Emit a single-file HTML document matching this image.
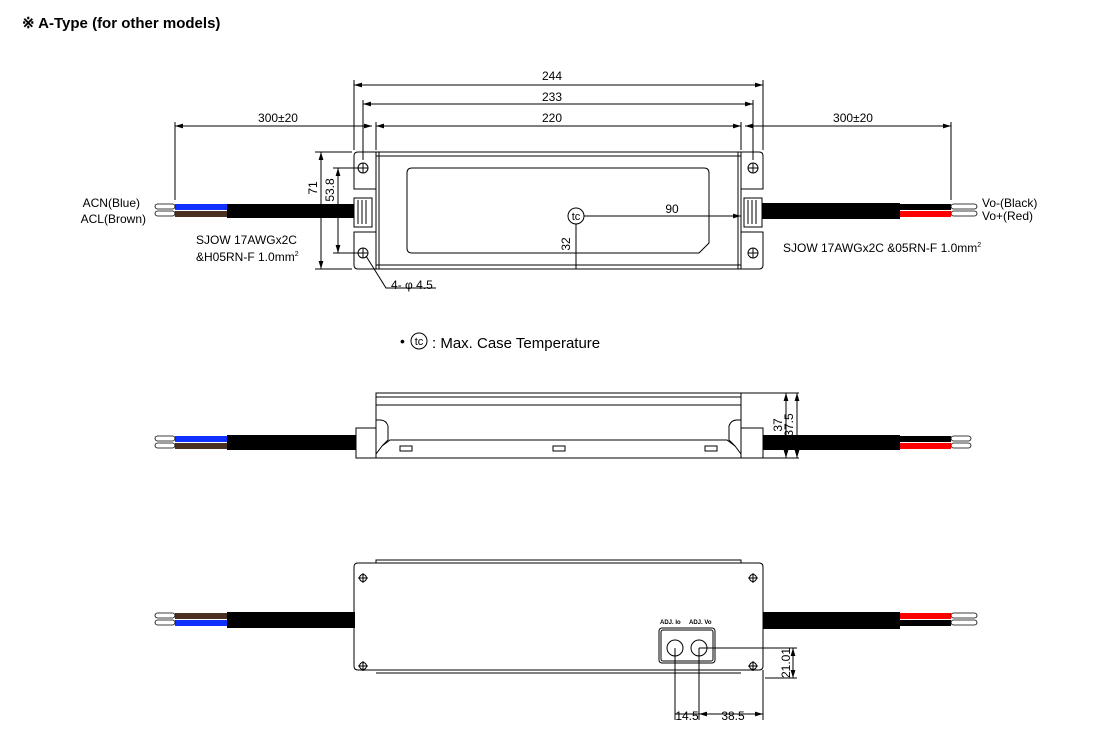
<!DOCTYPE html>
<html><head><meta charset="utf-8"><style>
body{margin:0;background:#fff;width:1100px;height:734px;overflow:hidden}
svg{display:block;font-family:"Liberation Sans",sans-serif}
</style></head><body>
<svg width="1100" height="734" viewBox="0 0 1100 734" xmlns="http://www.w3.org/2000/svg">
<defs>
<marker id="a" viewBox="0 0 10 6" refX="10" refY="3" markerWidth="8" markerHeight="5" orient="auto-start-reverse"><path d="M0,0L10,3L0,6z" fill="#000"/></marker>
</defs>
<text x="22" y="28" font-size="15" font-weight="bold">※ A-Type (for other models)</text>

<g stroke="#000" stroke-width="1" fill="none">
<path d="M354,156q0,-4 4,-4h18v37h-22z M354,232h22v37h-18q-4,0 -4,-4z"/>
<path d="M741,152h18q4,0 4,4v33h-22z M741,232h22v33q0,4 -4,4h-18z"/>
<rect x="376" y="152" width="365" height="117"/>
<line x1="376" y1="156" x2="741" y2="156"/><line x1="376" y1="265" x2="741" y2="265"/>
<line x1="379" y1="152" x2="379" y2="269"/><line x1="738" y1="152" x2="738" y2="269"/>
<path d="M412,168h292q5,0 5,5v70l-10,10h-287q-5,0 -5,-5v-75q0,-5 5,-5z"/>
<circle cx="363" cy="168" r="5"/><circle cx="363" cy="253" r="5"/><circle cx="753" cy="168" r="5"/><circle cx="753" cy="253" r="5"/>
<path d="M358,168h10M363,163v10M358,253h10M363,248v10M748,168h10M753,163v10M748,253h10M753,248v10"/>
<rect x="354" y="198" width="18" height="29"/><rect x="744" y="198" width="18" height="29"/>
<path d="M358,200v24M362,200v24M366,200v24M748,200v24M752,200v24M756,200v24"/>
<circle cx="576" cy="216" r="8"/>
<line x1="584" y1="216" x2="741" y2="216" marker-end="url(#a)"/>
<line x1="576" y1="224" x2="576" y2="269"/>
<path d="M354,80v70M763,80v70M363,100v60M753,100v60M376,122v28M741,122v28M175,122v78M951,122v78"/>
<line x1="354" y1="85" x2="763" y2="85" marker-start="url(#a)" marker-end="url(#a)"/>
<line x1="363" y1="104" x2="753" y2="104" marker-start="url(#a)" marker-end="url(#a)"/>
<line x1="376" y1="126" x2="741" y2="126" marker-start="url(#a)" marker-end="url(#a)"/>
<line x1="175" y1="126" x2="372" y2="126" marker-start="url(#a)" marker-end="url(#a)"/>
<line x1="745" y1="126" x2="951" y2="126" marker-start="url(#a)" marker-end="url(#a)"/>
<path d="M315,152h37M315,269h37M333,168h26M333,253h26"/>
<line x1="321" y1="152" x2="321" y2="269" marker-start="url(#a)" marker-end="url(#a)"/>
<line x1="338" y1="168" x2="338" y2="253" marker-start="url(#a)" marker-end="url(#a)"/>
<path d="M366,256l20,32h50"/>
</g>
<rect x="227" y="204" width="127" height="14" fill="#000"/>
<rect x="175" y="204" width="52" height="6" fill="#1030ff"/>
<rect x="175" y="211" width="52" height="6" fill="#4a3020"/>
<rect x="762" y="203" width="138" height="16" fill="#000"/>
<rect x="900" y="204" width="51" height="6" fill="#000"/>
<rect x="900" y="211" width="51" height="6" fill="#ff0000"/>
<g fill="#fff" stroke="#000" stroke-width="0.8">
<rect x="155" y="204" width="20" height="5" rx="2.5"/><rect x="155" y="211" width="20" height="5" rx="2.5"/>
<rect x="951" y="204" width="26" height="5" rx="2.5"/><rect x="951" y="211" width="26" height="5" rx="2.5"/>
</g>
<g font-size="12">
<text x="552" y="80" text-anchor="middle">244</text>
<text x="552" y="101" text-anchor="middle">233</text>
<text x="552" y="122" text-anchor="middle">220</text>
<text x="278" y="122" text-anchor="middle">300±20</text>
<text x="853" y="122" text-anchor="middle">300±20</text>
<text x="672" y="213" text-anchor="middle">90</text>
<text transform="translate(570,244) rotate(-90)" text-anchor="middle">32</text>
<text transform="translate(317,188) rotate(-90)" text-anchor="middle">71</text>
<text transform="translate(334,190) rotate(-90)" text-anchor="middle">53.8</text>
<text x="576" y="220" text-anchor="middle" font-size="11">tc</text>
<text x="140" y="207" text-anchor="end">ACN(Blue)</text>
<text x="146" y="223" text-anchor="end">ACL(Brown)</text>
<text x="982" y="207">Vo-(Black)</text>
<text x="982" y="220">Vo+(Red)</text>
<text x="196" y="244">SJOW 17AWGx2C</text>
<text x="196" y="261">&amp;H05RN-F 1.0mm<tspan font-size="7" dy="-5">2</tspan></text>
<text x="783" y="252">SJOW 17AWGx2C &amp;05RN-F 1.0mm<tspan font-size="7" dy="-5">2</tspan></text>
<text x="391" y="289">4- φ 4.5</text>
</g>
<text x="400" y="346" font-size="14">•</text>
<circle cx="419" cy="341" r="8" fill="none" stroke="#000"/>
<text x="419" y="345" font-size="11" text-anchor="middle">tc</text>
<text x="432" y="348" font-size="15">: Max. Case Temperature</text>

<g stroke="#000" fill="none">
<path d="M376,458v-65h365v65"/>
<line x1="376" y1="397" x2="741" y2="397"/><line x1="376" y1="405" x2="741" y2="405"/>
<path d="M376,420h4q6,0 8,6v14l-6,6 M741,420h-4q-6,0 -8,6v14l6,6"/>
<path d="M382,446l8,-6h337l8,6l6,8M382,446l-6,8"/>
<line x1="356" y1="458" x2="765" y2="458"/>
<rect x="356" y="428" width="20" height="30"/><rect x="741" y="428" width="22" height="30"/>
<rect x="400" y="446" width="12" height="5"/><rect x="553" y="446" width="12" height="5"/><rect x="705" y="446" width="12" height="5"/>
<path d="M741,393h58M765,458h34"/>
<line x1="786" y1="393" x2="786" y2="458" marker-start="url(#a)" marker-end="url(#a)"/>
<line x1="797" y1="393" x2="797" y2="458" marker-start="url(#a)" marker-end="url(#a)"/>
</g>
<rect x="227" y="435" width="129" height="15" fill="#000"/>
<rect x="175" y="436" width="52" height="6" fill="#1030ff"/>
<rect x="175" y="443" width="52" height="6" fill="#4a3020"/>
<rect x="763" y="435" width="137" height="15" fill="#000"/>
<rect x="900" y="436" width="51" height="6" fill="#000"/>
<rect x="900" y="443" width="51" height="6" fill="#ff0000"/>
<g fill="#fff" stroke="#000" stroke-width="0.8">
<rect x="155" y="436" width="20" height="5" rx="2.5"/><rect x="155" y="443" width="20" height="5" rx="2.5"/>
<rect x="951" y="436" width="20" height="5" rx="2.5"/><rect x="951" y="443" width="20" height="5" rx="2.5"/>
</g>
<text transform="translate(782,425) rotate(-90)" font-size="12" text-anchor="middle">37</text>
<text transform="translate(793,425) rotate(-90)" font-size="12" text-anchor="middle">37.5</text>

<g stroke="#000" fill="none">
<path d="M376,563v-3h365v3"/>
<path d="M358,563h401q4,0 4,4v99q0,4 -4,4h-401q-4,0 -4,-4v-99q0,-4 4,-4z"/>
<line x1="376" y1="673" x2="741" y2="673"/>
<circle cx="363" cy="578" r="3.5"/><circle cx="753" cy="578" r="3.5"/><circle cx="363" cy="666" r="3.5"/><circle cx="753" cy="666" r="3.5"/>
<path d="M358,578h10M363,573v10M748,578h10M753,573v10M358,666h10M363,661v10M748,666h10M753,661v10"/>
<rect x="659" y="628" width="56" height="35" rx="3"/>
<rect x="661" y="630" width="52" height="31" rx="2"/>
<circle cx="675" cy="648" r="8"/><circle cx="699" cy="648" r="8"/>
<path d="M675,648v72M699,648v72M763,670v50M699,648h98M765,678h32"/>
<line x1="675" y1="714" x2="699" y2="714"/>
<line x1="699" y1="714" x2="763" y2="714" marker-start="url(#a)" marker-end="url(#a)"/>
<line x1="793" y1="648" x2="793" y2="678" marker-start="url(#a)" marker-end="url(#a)"/>
</g>
<rect x="227" y="612" width="128" height="16" fill="#000"/>
<rect x="175" y="613" width="52" height="6" fill="#4a3020"/>
<rect x="175" y="620" width="52" height="6" fill="#1030ff"/>
<rect x="763" y="612" width="137" height="17" fill="#000"/>
<rect x="900" y="613" width="51" height="6" fill="#ff0000"/>
<rect x="900" y="620" width="51" height="6" fill="#000"/>
<g fill="#fff" stroke="#000" stroke-width="0.8">
<rect x="155" y="613" width="20" height="5" rx="2.5"/><rect x="155" y="620" width="20" height="5" rx="2.5"/>
<rect x="951" y="613" width="26" height="5" rx="2.5"/><rect x="951" y="620" width="26" height="5" rx="2.5"/>
</g>
<text x="660" y="624" font-size="6" font-weight="bold">ADJ. Io</text>
<text x="689" y="624" font-size="6" font-weight="bold">ADJ. Vo</text>
<text x="687" y="720" font-size="12" text-anchor="middle">14.5</text>
<text x="733" y="720" font-size="12" text-anchor="middle">38.5</text>
<text transform="translate(790,663) rotate(-90)" font-size="12" text-anchor="middle">21.01</text>
</svg>
</body></html>
